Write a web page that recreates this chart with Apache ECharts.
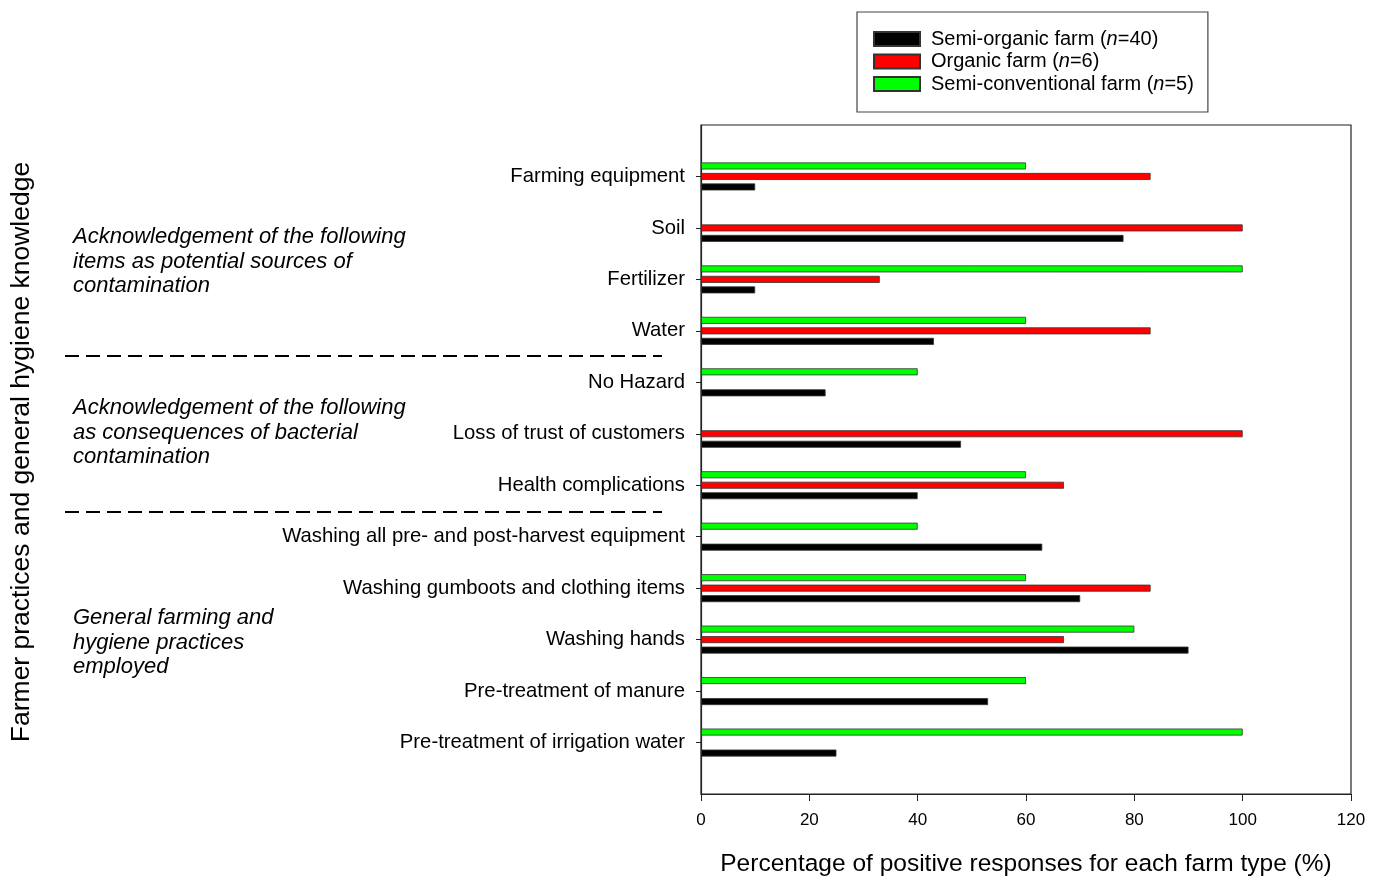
<!DOCTYPE html>
<html>
<head>
<meta charset="utf-8">
<script src="https://cdn.jsdelivr.net/npm/echarts@6/dist/echarts.min.js"></script>
<style>
  html, body { margin: 0; padding: 0; background: #fff; }
  #chart { width: 1381px; height: 882px; }
</style>
</head>
<body>
<div id="chart"></div>
<script>
// categories top to bottom ('' = empty slot at each end of the axis)
var categories = ['', 'Farming equipment', 'Soil', 'Fertilizer', 'Water', 'No Hazard',
    'Loss of trust of customers', 'Health complications',
    'Washing all pre- and post-harvest equipment', 'Washing gumboots and clothing items',
    'Washing hands', 'Pre-treatment of manure', 'Pre-treatment of irrigation water', ''];

// percentage of positive responses (%)
var semiOrganic = [10, 78, 10, 43, 23, 48, 40, 63, 70, 90, 53, 25];
var organic = [83, 100, 33, 83, 0, 100, 67, 0, 83, 67, 0, 0];
var semiConventional = [60, 0, 100, 60, 40, 0, 60, 40, 60, 80, 60, 100];

var xTicks = [0, 20, 40, 60, 80, 100, 120];

var legendNames = ['Semi-organic farm (n=40)', 'Organic farm (n=6)', 'Semi-conventional farm (n=5)'];

var font = '"Liberation Sans", Arial, sans-serif';

// pad with empty end slots, hide zero bars
function pad(arr) {
    var out = ['-'];
    arr.forEach(function (v) { out.push(v === 0 ? '-' : v); });
    out.push('-');
    return out;
}

function barSeries(name, data, color) {
    return {
        name: name,
        type: 'bar',
        data: pad(data),
        barWidth: 7,
        barGap: '50%',
        itemStyle: { color: color, borderColor: '#333', borderWidth: 0.8 }
    };
}

var chart = echarts.init(document.getElementById('chart'));

chart.setOption({
    backgroundColor: '#fff',
    animation: false,
    textStyle: { fontFamily: font },
    grid: {
        left: 701, right: 30, top: 125, bottom: 85,
        show: true, borderColor: '#222', borderWidth: 1.2
    },
    legend: {
        orient: 'vertical',
        left: 857, top: 12,
        padding: [17, 14, 18, 16],
        borderColor: '#444', borderWidth: 1.2,
        icon: 'rect',
        itemWidth: 46, itemHeight: 14, itemGap: 2.5,
        data: legendNames,
        formatter: function (name) {
            var m = name.match(/^(.*\()n(=.*)$/);
            return '{a|' + m[1] + '}{i|n}{a|' + m[2] + '}';
        },
        textStyle: {
            fontSize: 20, color: '#000', fontFamily: font,
            padding: [0, 0, 0, 6],
            rich: {
                a: { fontSize: 20, color: '#000', fontFamily: font },
                i: { fontSize: 20, color: '#000', fontFamily: font, fontStyle: 'italic' }
            }
        }
    },
    xAxis: {
        type: 'value',
        min: xTicks[0],
        max: xTicks[xTicks.length - 1],
        interval: 20,
        name: 'Percentage of positive responses for each farm type (%)',
        nameLocation: 'middle',
        nameGap: 58,
        nameTextStyle: { fontSize: 24.5, color: '#000', fontFamily: font },
        axisLine: { show: true, lineStyle: { color: '#222', width: 1.2 } },
        axisTick: { show: true, inside: false, length: 7, lineStyle: { color: '#222' } },
        axisLabel: { fontSize: 17, color: '#000', margin: 18 },
        splitLine: { show: false }
    },
    yAxis: {
        type: 'category',
        data: categories,
        inverse: true,
        boundaryGap: false,
        axisLine: { show: true, lineStyle: { color: '#222', width: 1.2 } },
        axisTick: {
            show: true, length: 5, lineStyle: { color: '#222' },
            interval: function (i) { return i > 0 && i < categories.length - 1; }
        },
        axisLabel: { fontSize: 20.3, color: '#000', margin: 16, interval: 0, padding: [4, 0, 0, 0] },
        splitLine: { show: false }
    },
    series: [
        barSeries(legendNames[2], semiConventional, '#00ff00'),
        barSeries(legendNames[1], organic, '#ff0000'),
        barSeries(legendNames[0], semiOrganic, '#000000')
    ],
    graphic: [
        {
            type: 'text',
            x: 22, y: 452,
            rotation: Math.PI / 2,
            style: {
                text: 'Farmer practices and general hygiene knowledge',
                font: '26.5px ' + font, fill: '#000',
                align: 'center', verticalAlign: 'middle'
            }
        },
        {
            type: 'line',
            shape: { x1: 65, y1: 356, x2: 662, y2: 356 },
            style: { stroke: '#000', lineWidth: 2, lineDash: [14, 7] }
        },
        {
            type: 'line',
            shape: { x1: 65, y1: 512, x2: 662, y2: 512 },
            style: { stroke: '#000', lineWidth: 2, lineDash: [14, 7] }
        },
        {
            type: 'text', left: 73, top: 225,
            style: {
                text: 'Acknowledgement of the following\nitems as potential sources of\ncontamination',
                font: 'italic 22px ' + font, fill: '#000', lineHeight: 24.5
            }
        },
        {
            type: 'text', left: 73, top: 396,
            style: {
                text: 'Acknowledgement of the following\nas consequences of bacterial\ncontamination',
                font: 'italic 22px ' + font, fill: '#000', lineHeight: 24.5
            }
        },
        {
            type: 'text', left: 73, top: 606,
            style: {
                text: 'General farming and\nhygiene practices\nemployed',
                font: 'italic 22px ' + font, fill: '#000', lineHeight: 24.5
            }
        }
    ]
});

window.addEventListener('resize', function () {
    chart.resize();
});
</script>
</body>
</html>
